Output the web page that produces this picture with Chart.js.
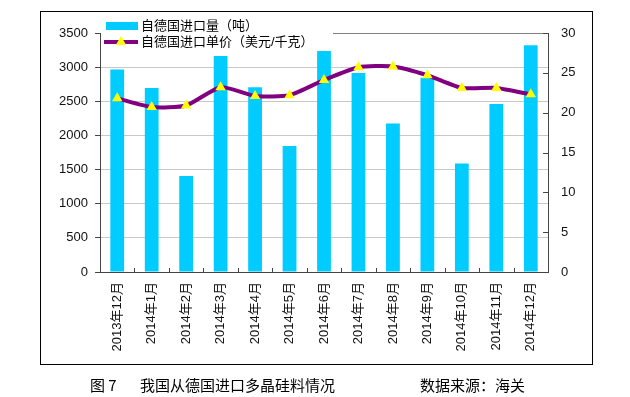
<!DOCTYPE html>
<html lang="zh">
<head>
    <meta charset="UTF-8">
    <title>我国从德国进口多晶硅料情况</title>
    <style>
        body {
            margin: 0;
            background-color: #fff;
        }
        .wrap {
            position: relative;
            width: 630px;
            height: 397px;
        }
        .caption {
            position: absolute;
            top: 374px;
            font-family: 'Noto Sans CJK SC', sans-serif;
            font-size: 15px;
            color: #000;
            white-space: nowrap;
        }
    </style>
</head>
<body>
    <div class="wrap">
        <canvas id="chart" width="630" height="397"></canvas>
        <span class="caption" style="left: 90px;">图 7</span>
        <span class="caption" style="left: 140px;">我国从德国进口多晶硅料情况</span>
        <span class="caption" style="left: 420px;">数据来源：海关</span>
    </div>

    <script src="https://cdn.jsdelivr.net/npm/chart.js@4"></script>
    <script>
        const months = ['2013年12月', '2014年1月', '2014年2月', '2014年3月', '2014年4月', '2014年5月', '2014年6月',
            '2014年7月', '2014年8月', '2014年9月', '2014年10月', '2014年11月', '2014年12月'];
        // 自德国进口量（吨）
        const volume = [2965, 2695, 1405, 3165, 2705, 1845, 3235, 2915, 2175, 2845, 1590, 2460, 3320];
        // 自德国进口单价（美元/千克）
        const price = [21.8, 20.7, 20.9, 23.2, 22.1, 22.2, 24.1, 25.7, 25.8, 24.7, 23.1, 23.1, 22.3];
        const leftTicks = [0, 500, 1000, 1500, 2000, 2500, 3000, 3500];
        const rightTicks = [0, 5, 10, 15, 20, 25, 30];

        const volumeLabel = '自德国进口量（吨）';
        const priceLabel = '自德国进口单价（美元/千克）';
        const barColor = '#00CCFF';
        const lineColor = '#800080';
        const axisColor = '#444';
        const labelFont = { family: "'Liberation Sans', 'Noto Sans CJK SC', sans-serif", size: 13 };

        // 外框、内侧刻度线和图例
        const decorations = {
            id: 'decorations',
            afterDraw(chart) {
                const { ctx, chartArea: a, scales } = chart;
                ctx.save();
                ctx.strokeStyle = axisColor;
                ctx.lineWidth = 1;
                ctx.beginPath();
                rightTicks.forEach(v => {
                    const y = Math.round(scales.y2.getPixelForValue(v)) + 0.5;
                    ctx.moveTo(a.right - 5, y);
                    ctx.lineTo(a.right, y);
                });
                for (let i = 1; i < months.length; i++) {
                    const x = Math.round((scales.x.getPixelForValue(i - 1) + scales.x.getPixelForValue(i)) / 2) + 0.5;
                    ctx.moveTo(x, a.bottom);
                    ctx.lineTo(x, a.bottom - 4);
                }
                ctx.stroke();

                ctx.strokeStyle = '#000';
                ctx.strokeRect(40.5, 11.5, 552, 353);

                // 图例
                ctx.fillStyle = '#fff';
                ctx.fillRect(a.left + 1, 14, 232, 34);
                ctx.fillStyle = barColor;
                ctx.fillRect(a.left + 6, 22, 32, 8);
                ctx.strokeStyle = lineColor;
                ctx.lineWidth = 4;
                ctx.beginPath();
                ctx.moveTo(a.left + 4, 42);
                ctx.lineTo(a.left + 38, 42);
                ctx.stroke();
                ctx.fillStyle = '#FFFF00';
                ctx.beginPath();
                const cx = a.left + 21, cy = 42, r = 6;
                ctx.moveTo(cx, cy - r);
                ctx.lineTo(cx + r * 0.866, cy + r / 2);
                ctx.lineTo(cx - r * 0.866, cy + r / 2);
                ctx.closePath();
                ctx.fill();
                ctx.fillStyle = '#000';
                ctx.font = "13px 'Liberation Sans', 'Noto Sans CJK SC', sans-serif";
                ctx.textBaseline = 'middle';
                ctx.fillText(volumeLabel, a.left + 41, 26);
                ctx.fillText(priceLabel, a.left + 41, 42);
                ctx.restore();
            }
        };

        new Chart(document.getElementById('chart'), {
            data: {
                labels: months,
                datasets: [
                    {
                        type: 'line',
                        label: priceLabel,
                        data: price,
                        yAxisID: 'y2',
                        order: 0,
                        borderColor: lineColor,
                        borderWidth: 4,
                        tension: 0.2,
                        pointStyle: 'triangle',
                        pointRadius: 6,
                        pointBackgroundColor: '#FFFF00',
                        pointBorderColor: '#FFFF00',
                        pointBorderWidth: 0
                    },
                    {
                        type: 'bar',
                        label: volumeLabel,
                        data: volume,
                        yAxisID: 'y',
                        order: 1,
                        backgroundColor: barColor,
                        barPercentage: 0.4,
                        categoryPercentage: 1
                    }
                ]
            },
            options: {
                responsive: false,
                animation: false,
                layout: { padding: { left: 40, right: 38, top: 33, bottom: 35 } },
                plugins: {
                    legend: { display: false },
                    tooltip: { enabled: false }
                },
                scales: {
                    x: {
                        offset: true,
                        afterFit(scale) { scale.height = 90; },
                        grid: { display: false, drawTicks: false },
                        border: { display: true, color: axisColor },
                        ticks: {
                            autoSkip: false,
                            minRotation: 90,
                            maxRotation: 90,
                            padding: 10,
                            color: '#111',
                            font: labelFont
                        }
                    },
                    y: {
                        position: 'left',
                        min: 0,
                        max: 3500,
                        afterFit(scale) { scale.width = 60; },
                        afterBuildTicks(scale) { scale.ticks = leftTicks.map(v => ({ value: v })); },
                        grid: {
                            color: ctx => ctx.tick && ctx.tick.value === 3500 ? '#808080' : '#c8c8c8',
                            tickColor: axisColor,
                            tickLength: 5
                        },
                        border: { display: true, color: axisColor },
                        ticks: { padding: 7, color: '#111', font: labelFont, callback: v => String(v) }
                    },
                    y2: {
                        position: 'right',
                        min: 0,
                        max: 30,
                        afterFit(scale) { scale.width = 44; },
                        afterBuildTicks(scale) { scale.ticks = rightTicks.map(v => ({ value: v })); },
                        grid: { drawOnChartArea: false, drawTicks: false },
                        border: { display: true, color: axisColor },
                        ticks: { padding: 13, color: '#111', font: labelFont, callback: v => String(v) }
                    }
                }
            },
            plugins: [decorations]
        });
    </script>
</body>
</html>
